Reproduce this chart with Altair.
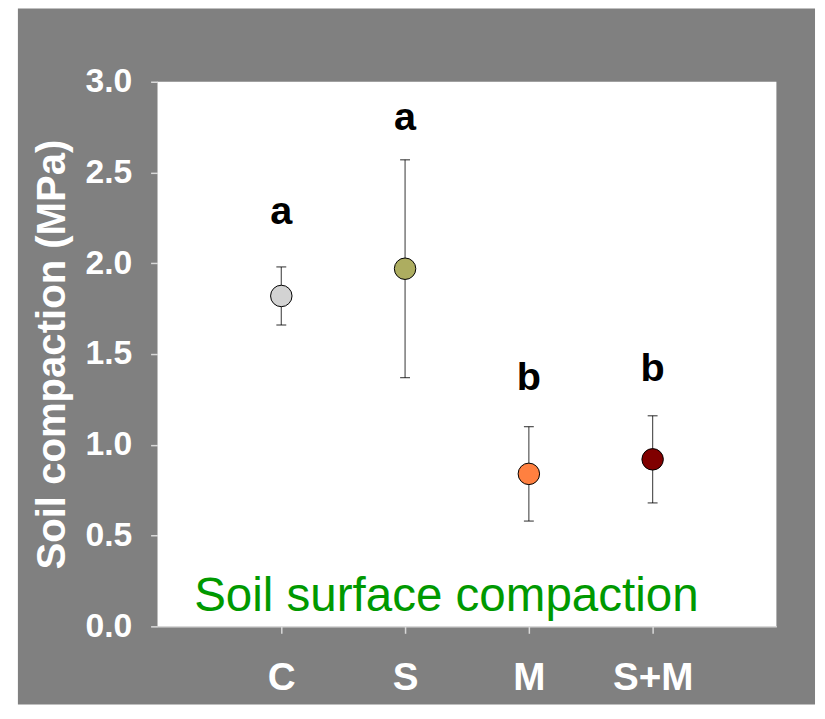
import altair as alt
import pandas as pd

# ---- data ----
treatments = ["C", "S", "M", "S+M"]
means = [1.82, 1.97, 0.84, 0.92]
upper = [1.98, 2.57, 1.10, 1.16]
lower = [1.66, 1.37, 0.58, 0.68]
letters = ["a", "a", "b", "b"]
letter_y = [2.215, 2.733, 1.304, 1.353]
colors = ["#D3D3D3", "#ADAD60", "#FF8040", "#800000"]
y_ticks = [0.0, 0.5, 1.0, 1.5, 2.0, 2.5, 3.0]

df = pd.DataFrame({
    "trt": treatments,
    "mean": means,
    "upper": upper,
    "lower": lower,
    "letter": letters,
    "ly": letter_y,
})
one = pd.DataFrame({"d": [0]})

W, H = 625, 550
FONT = "Liberation Sans"

xaxis = alt.Axis(
    title=None, labelAngle=0, grid=False, domain=True, domainColor="#d9d9d9",
    domainWidth=1.5, ticks=True, tickSize=7, tickColor="#d9d9d9", tickWidth=1.5,
    labelFont=FONT, labelFontSize=39, labelFontWeight="bold", labelColor="white",
    labelPadding=26, zindex=1,
)
yaxis = alt.Axis(
    values=y_ticks, format=".1f", title="Soil compaction (MPa)", grid=False,
    domain=False, ticks=True, tickSize=7, tickColor="#d9d9d9", tickWidth=1.5,
    labelFont=FONT, labelFontSize=34, labelFontWeight="bold", labelColor="white",
    labelPadding=19, titleFont=FONT, titleFontSize=40.5, titleFontWeight="bold",
    titleColor="white", titleAngle=270, titleX=-94, titleY=H / 2,
    titleBaseline="alphabetic", titleAlign="center", zindex=1,
)
xenc = alt.X("trt:N", sort=treatments, scale=alt.Scale(type="point", padding=1), axis=xaxis)
yscale = alt.Scale(domain=[0, 3], nice=False)

bg = alt.Chart(one).mark_rect(color="#808080").encode(
    x=alt.value(-141), x2=alt.value(W + 39), y=alt.value(-74), y2=alt.value(H + 79)
)
plot_bg = alt.Chart(one).mark_rect(color="white").encode(
    x=alt.value(0), x2=alt.value(W), y=alt.value(0), y2=alt.value(H)
)

rules = alt.Chart(df).mark_rule(color="#555555", strokeWidth=1.2).encode(
    x=xenc,
    y=alt.Y("lower:Q", scale=yscale, axis=yaxis),
    y2="upper:Q",
)
caps_hi = alt.Chart(df).mark_tick(color="black", size=10, thickness=1.2).encode(
    x=xenc, y=alt.Y("upper:Q", scale=yscale, axis=yaxis)
)
caps_lo = alt.Chart(df).mark_tick(color="black", size=10, thickness=1.2).encode(
    x=xenc, y=alt.Y("lower:Q", scale=yscale, axis=yaxis)
)
points = alt.Chart(df).mark_circle(size=470, opacity=1, stroke="black", strokeWidth=1).encode(
    x=xenc,
    y=alt.Y("mean:Q", scale=yscale, axis=yaxis),
    color=alt.Color("trt:N", scale=alt.Scale(domain=treatments, range=colors), legend=None),
)
letter_text = alt.Chart(df).mark_text(
    font=FONT, fontSize=40, fontWeight="bold", color="black", align="center", baseline="alphabetic"
).encode(
    x=xenc, y=alt.Y("ly:Q", scale=yscale, axis=yaxis), text="letter:N"
)
label = alt.Chart(one).mark_text(
    font=FONT, fontSize=48, color="#009900", align="left", baseline="alphabetic",
    text="Soil surface compaction",
).encode(x=alt.value(37), y=alt.value(534))

chart = alt.layer(
    bg, plot_bg, rules, caps_hi, caps_lo, points, letter_text, label
).properties(
    width=W, height=H, background="white",
    autosize=alt.AutoSizeParams(type="none"),
    padding={"left": 151, "top": 71, "right": 41, "bottom": 82},
).configure_view(strokeWidth=0)

chart.save("out.html", embed_options={"renderer": "svg", "actions": False})
